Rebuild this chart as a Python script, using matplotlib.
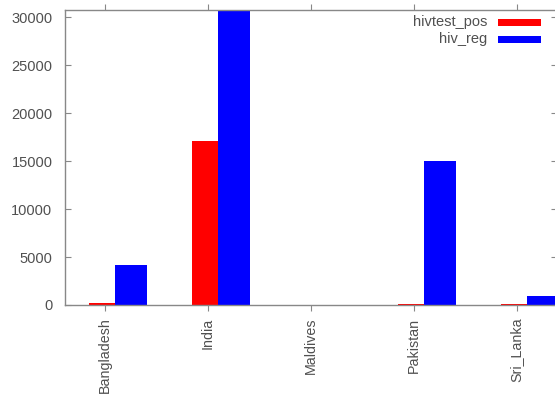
import matplotlib.pyplot as plt
from matplotlib.patches import Rectangle
import numpy as np

countries = ['Bangladesh', 'India', 'Maldives', 'Pakistan', 'Sri_Lanka']
hivtest_pos = [200, 17100, 0, 150, 120]
hiv_reg = [4150, 30700, 0, 15050, 950]
series_names = ['hivtest_pos', 'hiv_reg']
series_colors = ['#ff0000', '#0000ff']

plt.rcParams['font.family'] = ['Liberation Sans', 'DejaVu Sans']
text_col = '#505050'
axis_col = '#888888'

fig = plt.figure(figsize=(5.55, 3.97), dpi=100)
ax = fig.add_axes([65 / 555, 1 - 305 / 397, 492 / 555, 295 / 397])

x = np.arange(len(countries))
w = 0.31
ax.bar(x, hivtest_pos, width=w, color=series_colors[0], linewidth=0)
ax.bar(x + 0.252, hiv_reg, width=w, color=series_colors[1], linewidth=0)

ax.set_xlim(-0.388, 4.39)
ax.set_ylim(0, 30730)
ax.set_yticks(range(0, 30001, 5000))
ax.set_xticks(x)
ax.set_xticklabels(countries, rotation=90, fontsize=10.3, color=text_col)
for lab in ax.get_yticklabels():
    lab.set_fontsize(10.5)
    lab.set_color(text_col)

ax.tick_params(axis='y', direction='in', length=4, color=axis_col, right=True, pad=9)
ax.tick_params(axis='x', direction='out', length=4, color=axis_col, top=True, pad=5)
for s in ax.spines.values():
    s.set_color(axis_col)
    s.set_linewidth(1)

# legend, gnuplot style: right-aligned text then swatch
for i, (name, col) in enumerate(zip(series_names, series_colors)):
    yy = 1 - (12 + 17 * i) / 295
    ax.text((487 - 65) / 492, yy, name, transform=ax.transAxes, ha='right', va='center',
            fontsize=10.5, color=text_col)
    ax.add_patch(Rectangle(((498 - 65) / 492, yy - 3.5 / 295), 43 / 492, 7 / 295,
                           transform=ax.transAxes, color=col, linewidth=0))

plt.savefig('out.png', dpi=100)
